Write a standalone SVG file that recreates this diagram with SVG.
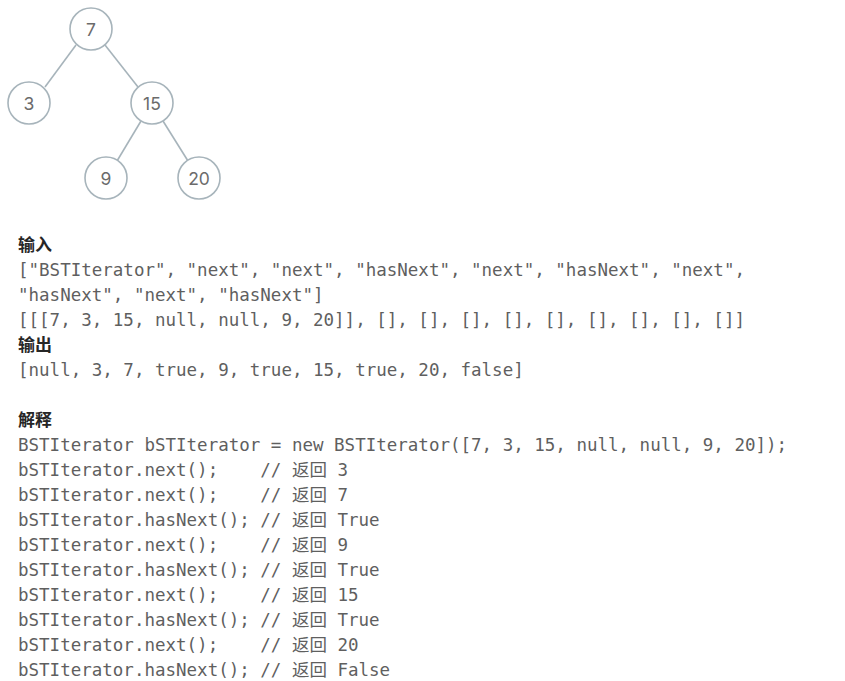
<svg xmlns="http://www.w3.org/2000/svg" width="845" height="681" viewBox="0 0 845 681">
<style>
.edge{stroke:#a7b4bb;stroke-width:1.6;fill:none}
.node circle{fill:#fff;stroke:#a7b4bb;stroke-width:1.6}
.node text{font-family:"Inter","Noto Sans",sans-serif;font-size:17.5px;fill:#6b6b6b;text-anchor:middle}
.h{font-family:"Noto Sans CJK SC","Noto Sans",sans-serif;font-size:17px;font-weight:bold;fill:#262626}
.c{font-family:"DejaVu Sans Mono","Noto Sans CJK SC",monospace;font-size:17.5px;fill:#5f5f5f;white-space:pre}
</style>
<rect width="845" height="681" fill="#fff"/>
<g id="connectors">
<line class="edge" x1="76" y1="45" x2="45" y2="87"/>
<line class="edge" x1="105" y1="45" x2="138" y2="87"/>
<line class="edge" x1="141" y1="121" x2="117" y2="161"/>
<line class="edge" x1="163" y1="121" x2="188" y2="161"/>
</g>
<g id="n7" class="node"><circle cx="91" cy="29" r="21"/><text x="91" y="35.5">7</text></g>
<g id="n3" class="node"><circle cx="29" cy="103" r="21"/><text x="29" y="109.5">3</text></g>
<g id="n15" class="node"><circle cx="152" cy="103" r="21"/><text x="152" y="109.5">15</text></g>
<g id="n9" class="node"><circle cx="106" cy="178" r="21"/><text x="106" y="184.5">9</text></g>
<g id="n20" class="node"><circle cx="199" cy="178" r="21"/><text x="199" y="184.5">20</text></g>
<g id="text">
<text class="h" x="18" y="251">输入</text>
<text class="c" x="18" y="276" xml:space="preserve">["BSTIterator", "next", "next", "hasNext", "next", "hasNext", "next",</text>
<text class="c" x="18" y="301" xml:space="preserve">"hasNext", "next", "hasNext"]</text>
<text class="c" x="18" y="326" xml:space="preserve">[[[7, 3, 15, null, null, 9, 20]], [], [], [], [], [], [], [], [], []]</text>
<text class="h" x="18" y="351">输出</text>
<text class="c" x="18" y="376" xml:space="preserve">[null, 3, 7, true, 9, true, 15, true, 20, false]</text>
<text class="h" x="18" y="426">解释</text>
<text class="c" x="18" y="451" xml:space="preserve">BSTIterator bSTIterator = new BSTIterator([7, 3, 15, null, null, 9, 20]);</text>
<text class="c" x="18" y="476" xml:space="preserve">bSTIterator.next();    // 返回 3</text>
<text class="c" x="18" y="501" xml:space="preserve">bSTIterator.next();    // 返回 7</text>
<text class="c" x="18" y="526" xml:space="preserve">bSTIterator.hasNext(); // 返回 True</text>
<text class="c" x="18" y="551" xml:space="preserve">bSTIterator.next();    // 返回 9</text>
<text class="c" x="18" y="576" xml:space="preserve">bSTIterator.hasNext(); // 返回 True</text>
<text class="c" x="18" y="601" xml:space="preserve">bSTIterator.next();    // 返回 15</text>
<text class="c" x="18" y="626" xml:space="preserve">bSTIterator.hasNext(); // 返回 True</text>
<text class="c" x="18" y="651" xml:space="preserve">bSTIterator.next();    // 返回 20</text>
<text class="c" x="18" y="676" xml:space="preserve">bSTIterator.hasNext(); // 返回 False</text>
</g>
</svg>
